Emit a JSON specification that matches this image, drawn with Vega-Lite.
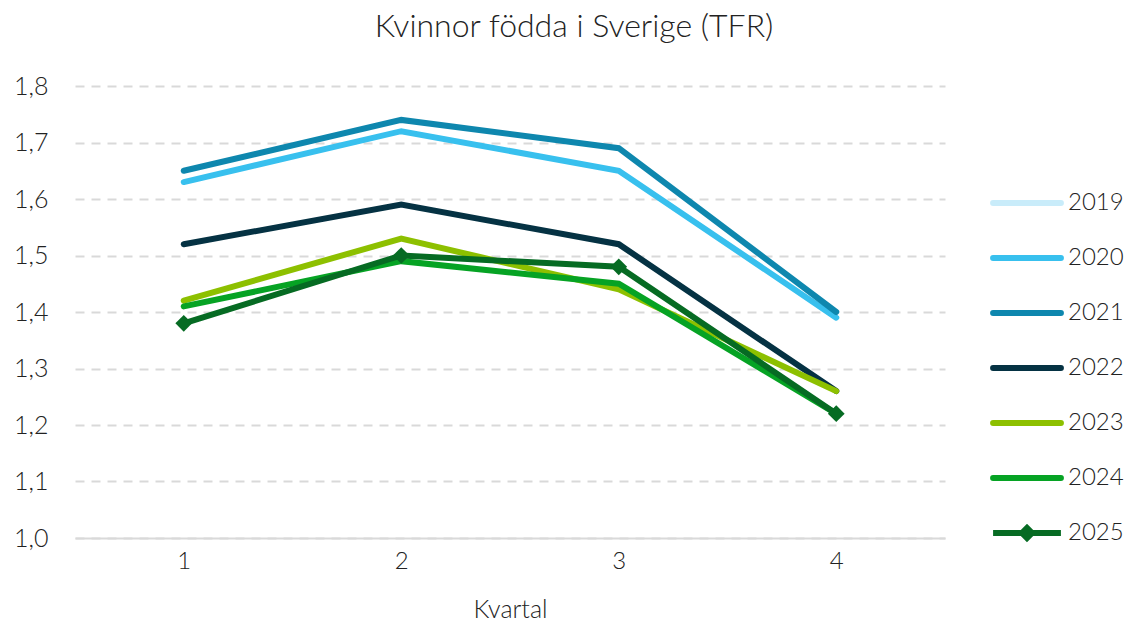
{
  "$schema": "https://vega.github.io/schema/vega-lite/v6.json",
  "width": 870,
  "height": 452,
  "autosize": {"type": "none"},
  "padding": {"left": 75, "top": 86, "right": 184, "bottom": 95},
  "background": "white",
  "config": {
    "font": "Lato",
    "view": {"stroke": null}
  },
  "title": {
    "text": "Kvinnor födda i Sverige (TFR)",
    "fontSize": 32,
    "fontWeight": 300,
    "color": "#222222",
    "anchor": "middle",
    "dx": 64,
    "offset": 30,
    "font": "Lato"
  },
  "data": {
    "values": [
      {"year": "2020", "q": "1", "tfr": 1.63},
      {"year": "2020", "q": "2", "tfr": 1.72},
      {"year": "2020", "q": "3", "tfr": 1.65},
      {"year": "2020", "q": "4", "tfr": 1.39},
      {"year": "2021", "q": "1", "tfr": 1.65},
      {"year": "2021", "q": "2", "tfr": 1.74},
      {"year": "2021", "q": "3", "tfr": 1.69},
      {"year": "2021", "q": "4", "tfr": 1.40},
      {"year": "2022", "q": "1", "tfr": 1.52},
      {"year": "2022", "q": "2", "tfr": 1.59},
      {"year": "2022", "q": "3", "tfr": 1.52},
      {"year": "2022", "q": "4", "tfr": 1.26},
      {"year": "2023", "q": "1", "tfr": 1.42},
      {"year": "2023", "q": "2", "tfr": 1.53},
      {"year": "2023", "q": "3", "tfr": 1.44},
      {"year": "2023", "q": "4", "tfr": 1.26},
      {"year": "2024", "q": "1", "tfr": 1.41},
      {"year": "2024", "q": "2", "tfr": 1.49},
      {"year": "2024", "q": "3", "tfr": 1.45},
      {"year": "2024", "q": "4", "tfr": 1.22},
      {"year": "2025", "q": "1", "tfr": 1.38},
      {"year": "2025", "q": "2", "tfr": 1.50},
      {"year": "2025", "q": "3", "tfr": 1.48},
      {"year": "2025", "q": "4", "tfr": 1.22}
    ]
  },
  "encoding": {
    "x": {
      "field": "q",
      "type": "ordinal",
      "scale": {"type": "point", "padding": 0.5},
      "axis": {
        "title": "Kvartal",
        "titleFontSize": 25,
        "titleFontWeight": 300,
        "titleColor": "#222222",
        "titlePadding": 24,
        "labelAngle": 0,
        "labelFontSize": 24,
        "labelFontWeight": 300,
        "labelColor": "#222222",
        "labelPadding": 11,
        "ticks": false,
        "domain": true,
        "domainColor": "#d9d9d9",
        "domainWidth": 2,
        "grid": false
      }
    },
    "y": {
      "field": "tfr",
      "type": "quantitative",
      "scale": {"domain": [1.0, 1.8], "nice": false, "zero": false},
      "axis": {
        "title": null,
        "values": [1.0, 1.1, 1.2, 1.3, 1.4, 1.5, 1.6, 1.7, 1.8],
        "labelExpr": "replace(format(datum.value, '.1f'), '.', ',')",
        "labelFontSize": 25,
        "labelFontWeight": 300,
        "labelColor": "#222222",
        "labelPadding": 27,
        "ticks": false,
        "domain": false,
        "grid": true,
        "gridColor": "#d9d9d9",
        "gridWidth": 2,
        "gridDash": [9, 7]
      }
    }
  },
  "layer": [
    {
      "mark": {"type": "line", "strokeWidth": 6, "strokeCap": "round", "strokeJoin": "miter"},
      "encoding": {
        "color": {
          "field": "year",
          "type": "nominal",
          "scale": {
            "domain": ["2019", "2020", "2021", "2022", "2023", "2024", "2025"],
            "range": ["#C9ECFA", "#38C0EE", "#0E87AE", "#053243", "#8DC000", "#06A324", "#066B23"]
          },
          "legend": {
            "title": null,
            "orient": "none",
            "legendX": 915,
            "legendY": 80,
            "symbolType": "stroke",
            "symbolSize": 4600,
            "symbolStrokeWidth": 6,
            "labelFontSize": 24,
            "labelFontWeight": 300,
            "labelColor": "#222222",
            "labelOffset": 4,
            "rowPadding": 6,
            "labelLimit": 200,
            "encode": {
              "symbols": {
                "update": {
                  "shape": {"signal": "datum.value === '2025' ? 'M-1,0L-0.15,0L0,-0.15L0.15,0L1,0L0.15,0L0,0.15L-0.15,0Z' : 'stroke'"},
                  "fill": {"signal": "datum.value === '2025' ? '#066B23' : 'transparent'"},
                  "strokeCap": {"value": "round"}
                }
              }
            }
          }
        },
        "order": {"field": "q"}
      }
    },
    {
      "transform": [{"filter": "datum.year === '2025'"}],
      "mark": {"type": "point", "shape": "diamond", "filled": true, "size": 280, "opacity": 1, "color": "#066B23"}
    }
  ]
}
